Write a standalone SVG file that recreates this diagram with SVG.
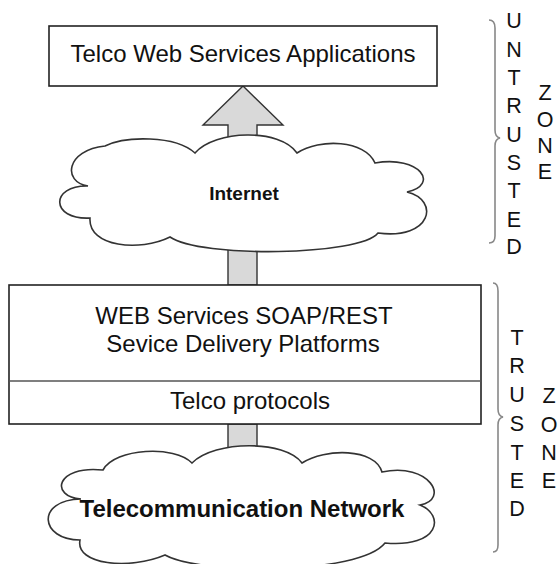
<svg xmlns="http://www.w3.org/2000/svg" width="560" height="564" viewBox="0 0 560 564">
<style>
.box{fill:#fff;stroke:#222;stroke-width:1.6}
.cloud{fill:#fff;stroke:#333;stroke-width:1.6;stroke-linejoin:miter}
.shaft{fill:#d9d9d9;stroke:#333;stroke-width:1.4}
.brace{fill:none;stroke:#888;stroke-width:1.6}
.t{font-family:"Liberation Sans",Arial,sans-serif;fill:#111;text-anchor:middle}
.lbl{font-size:24px}
.b{font-weight:bold}
.z{font-size:21.5px}
</style>
<rect width="560" height="564" fill="#fff"/>
<g id="connectors">
<polygon class="shaft" points="243,86 283,125 257,125 257,150 228,150 228,125 203,125"/>
<rect class="shaft" x="228" y="240" width="29" height="45"/>
<rect class="shaft" x="228" y="424" width="29" height="30"/>
</g>
<g id="apps">
<rect class="box" x="49" y="26" width="388" height="60"/>
<text class="t lbl" x="243" y="62">Telco Web Services Applications</text>
</g>
<g id="internet">
<path class="cloud" d="M 88,186 C 62,182 66,150 105,146 C 125,136 175,135 195,153 C 215,130 280,128 297,153 C 320,138 365,140 375,163 C 420,155 440,185 407,192 C 440,200 432,240 378,233 C 360,256 200,258 170,237 C 140,252 88,247 90,218 C 50,220 50,185 88,186 Z"/>
<text class="t b" font-size="19" x="244" y="200">Internet</text>
</g>
<g id="sdp">
<rect class="box" x="9" y="285" width="472" height="139"/>
<line x1="9" y1="381" x2="481" y2="381" stroke="#555" stroke-width="1.4"/>
<text class="t lbl" x="244" y="324">WEB Services SOAP/REST</text>
<text class="t lbl" x="243" y="352">Sevice Delivery Platforms</text>
<text class="t lbl" x="250" y="409">Telco protocols</text>
</g>
<g id="telecom">
<path class="cloud" d="M 81,499 C 50,497 55,465 103,470 C 115,448 175,445 192,463 C 215,440 285,440 302,463 C 325,448 375,448 382,472 C 430,462 450,500 420,505 C 445,515 440,548 385,543 C 360,575 200,575 165,555 C 130,570 75,565 80,540 C 40,540 35,500 81,499 Z"/>
<text class="t b lbl" x="242" y="517">Telecommunication Network</text>
</g>
<g id="untrusted-zone">
<path class="brace" d="M 489,20 Q 495,20 495,28 L 495,130 Q 495,137 500,138 Q 495,139 495,146 L 495,236 Q 495,243 489,243"/>
<text class="t z" x="514" y="28">U</text>
<text class="t z" x="514" y="57">N</text>
<text class="t z" x="514" y="85">T</text>
<text class="t z" x="514" y="113">R</text>
<text class="t z" x="514" y="142">U</text>
<text class="t z" x="514" y="170">S</text>
<text class="t z" x="514" y="198">T</text>
<text class="t z" x="514" y="227">E</text>
<text class="t z" x="514" y="254">D</text>
<text class="t z" x="545" y="100">Z</text>
<text class="t z" x="545" y="127">O</text>
<text class="t z" x="545" y="153">N</text>
<text class="t z" x="545" y="179">E</text>
</g>
<g id="trusted-zone">
<path class="brace" d="M 493,283 Q 498,283 498,291 L 498,409 Q 498,416 503,417 Q 498,418 498,425 L 498,545 Q 498,552 493,552"/>
<text class="t z" x="517" y="345">T</text>
<text class="t z" x="517" y="373">R</text>
<text class="t z" x="517" y="402">U</text>
<text class="t z" x="517" y="431">S</text>
<text class="t z" x="517" y="460">T</text>
<text class="t z" x="517" y="488">E</text>
<text class="t z" x="517" y="516">D</text>
<text class="t z" x="549" y="403">Z</text>
<text class="t z" x="549" y="432">O</text>
<text class="t z" x="549" y="460">N</text>
<text class="t z" x="549" y="488">E</text>
</g>
</svg>
